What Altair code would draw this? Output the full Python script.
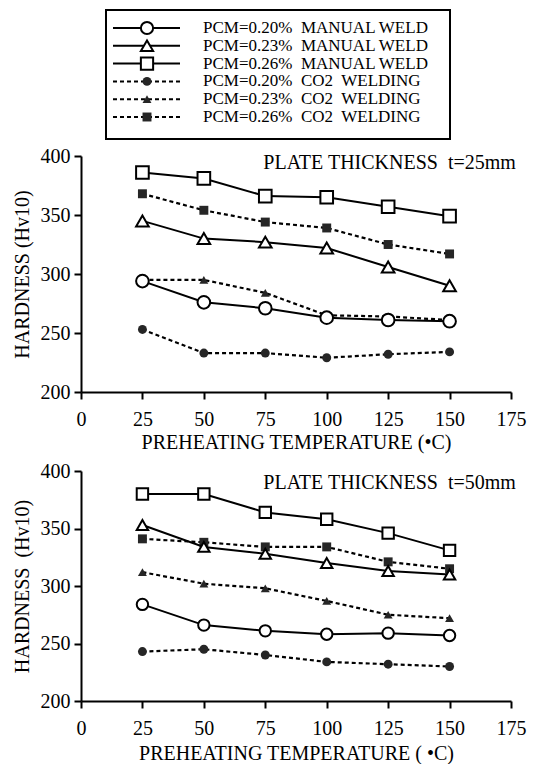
import altair as alt
import pandas as pd

# ---------------- data ----------------
temps = [25, 50, 75, 100, 125, 150]
pcm_levels = ["0.20", "0.23", "0.26"]

# plate thickness t=25mm
t25_manual_020 = [294, 276, 271, 263, 261, 260]
t25_manual_023 = [345, 330, 327, 322, 306, 290]
t25_manual_026 = [386, 381, 366, 365, 357, 349]
t25_co2_020 = [253, 233, 233, 229, 232, 234]
t25_co2_023 = [295, 295, 284, 265, 264, 261]
t25_co2_026 = [368, 354, 344, 339, 325, 317]

# plate thickness t=50mm
t50_manual_020 = [284, 266, 261, 258, 259, 257]
t50_manual_023 = [353, 334, 328, 320, 313, 310]
t50_manual_026 = [380, 380, 364, 358, 346, 331]
t50_co2_020 = [243, 245, 240, 234, 232, 230]
t50_co2_023 = [312, 302, 298, 287, 275, 272]
t50_co2_026 = [341, 338, 334, 334, 321, 315]

NB = "\u00a0"
legend_labels = [
    "PCM=0.20%" + NB + " MANUAL WELD",
    "PCM=0.23%" + NB + " MANUAL WELD",
    "PCM=0.26%" + NB + " MANUAL WELD",
    "PCM=0.20%" + NB + " CO2" + NB + " WELDING",
    "PCM=0.23%" + NB + " CO2" + NB + " WELDING",
    "PCM=0.26%" + NB + " CO2" + NB + " WELDING",
]
legend_pcm = ["0.20", "0.23", "0.26", "0.20", "0.23", "0.26"]
legend_method = ["MANUAL", "MANUAL", "MANUAL", "CO2", "CO2", "CO2"]

x_ticks = [0, 12.5, 25, 37.5, 50, 62.5, 75, 87.5, 100, 112.5, 125, 137.5, 150, 162.5, 175]
y_ticks = [200, 225, 250, 275, 300, 325, 350, 375, 400]

FONT = "Liberation Serif"


def to_long(series):
    rows = []
    for (method, pcm), vals in series.items():
        for t, v in zip(temps, vals):
            rows.append({"temp": t, "hardness": v, "pcm": pcm, "method": method})
    return pd.DataFrame(rows)


df25 = to_long({
    ("MANUAL", "0.20"): t25_manual_020,
    ("MANUAL", "0.23"): t25_manual_023,
    ("MANUAL", "0.26"): t25_manual_026,
    ("CO2", "0.20"): t25_co2_020,
    ("CO2", "0.23"): t25_co2_023,
    ("CO2", "0.26"): t25_co2_026,
})
df50 = to_long({
    ("MANUAL", "0.20"): t50_manual_020,
    ("MANUAL", "0.23"): t50_manual_023,
    ("MANUAL", "0.26"): t50_manual_026,
    ("CO2", "0.20"): t50_co2_020,
    ("CO2", "0.23"): t50_co2_023,
    ("CO2", "0.26"): t50_co2_026,
})

shape_scale = alt.Scale(domain=pcm_levels, range=["circle", "triangle-up", "square"])
PANEL_W = 430


def panel(df, note, note_y, xtitle, ytitle, h, open_size, fill_size, title_pad):
    x = alt.X(
        "temp:Q",
        scale=alt.Scale(domain=[0, 175], nice=False),
        axis=alt.Axis(
            values=x_ticks,
            labelExpr="datum.value % 25 === 0 ? datum.label : ''",
            tickSize={"condition": {"test": "datum.value % 25 === 0", "value": 7}, "value": 5},
            labelOverlap=False,
            labelFlush=False,
            labelPadding=10,
            title=xtitle,
            titlePadding=title_pad,
        ),
    )
    y = alt.Y(
        "hardness:Q",
        scale=alt.Scale(domain=[200, 400], nice=False, zero=False),
        axis=alt.Axis(
            values=y_ticks,
            labelExpr="datum.value % 50 === 0 ? datum.label : ''",
            tickSize={"condition": {"test": "datum.value % 50 === 0", "value": 7}, "value": 5},
            labelOverlap=False,
            labelFlush=False,
            labelPadding=4,
            title=ytitle,
            titlePadding=8,
        ),
    )
    shape = alt.Shape("pcm:N", scale=shape_scale, legend=None)
    base = alt.Chart(df)
    co2 = base.transform_filter("datum.method === 'CO2'")
    man = base.transform_filter("datum.method === 'MANUAL'")

    co2_line = co2.mark_line(color="black", strokeWidth=2.2, strokeDash=[4, 3]).encode(
        x=x, y=y, detail="pcm:N")
    co2_pts = co2.mark_point(filled=True, color="#262626", size=fill_size, opacity=1).encode(
        x=x, y=y, shape=shape)
    man_line = man.mark_line(color="black", strokeWidth=2).encode(x=x, y=y, detail="pcm:N")
    man_pts = man.mark_point(filled=True, fill="white", stroke="black", strokeWidth=2,
                             size=open_size, opacity=1).encode(x=x, y=y, shape=shape)

    note_df = pd.DataFrame({"t": [note], "x": [177], "y": [note_y]})
    note_txt = alt.Chart(note_df).mark_text(
        align="right", baseline="middle", font=FONT, fontSize=20, color="black"
    ).encode(x="x:Q", y="y:Q", text="t:N")

    return alt.layer(co2_line, co2_pts, man_line, man_pts, note_txt).properties(
        width=PANEL_W, height=h)


top = panel(df25, "PLATE THICKNESS" + NB + " t=25mm", 394,
            "PREHEATING TEMPERATURE (•C)", "HARDNESS (Hv10)", 236, 160, 80, 3)
bottom = panel(df50, "PLATE THICKNESS" + NB + " t=50mm", 390,
               "PREHEATING TEMPERATURE ( •C)", "HARDNESS" + NB + " (Hv10)", 230, 130, 80, 5)

# ---------------- hand-built legend (box, sample lines, markers, labels) ----------------
LEG_W = 369
LEG_H = 129
BOX_X0 = 25
SEG_X0, SEG_X1, MARK_X, TEXT_X = 32, 99, 66, 122
row_y = [18 + i * 17.8 for i in range(6)]

leg_rows = pd.DataFrame({
    "row": list(range(6)),
    "y": row_y,
    "label": legend_labels,
    "pcm": legend_pcm,
    "method": legend_method,
})
seg_rows = []
for i in range(6):
    for xx in (SEG_X0, SEG_X1):
        seg_rows.append({"row": i, "x": xx, "y": row_y[i], "method": legend_method[i]})
seg_df = pd.DataFrame(seg_rows)
leg_rows["mx"] = MARK_X
leg_rows["tx"] = TEXT_X
box_df = pd.DataFrame({"x0": [BOX_X0], "x1": [LEG_W], "y0": [0], "y1": [LEG_H]})

lx = alt.Scale(domain=[0, LEG_W], nice=False)
ly = alt.Scale(domain=[0, LEG_H], nice=False, reverse=True)

box = alt.Chart(box_df).mark_rect(fillOpacity=0, stroke="black", strokeWidth=2).encode(
    x=alt.X("x0:Q", scale=lx, axis=None), x2="x1:Q",
    y=alt.Y("y0:Q", scale=ly, axis=None), y2="y1:Q")

segs = alt.Chart(seg_df).mark_line(color="black", strokeWidth=2).encode(
    x=alt.X("x:Q", scale=lx, axis=None),
    y=alt.Y("y:Q", scale=ly, axis=None),
    detail="row:N",
    strokeDash=alt.StrokeDash("method:N", scale=alt.Scale(domain=["MANUAL", "CO2"],
                                                          range=[[1, 0], [4, 3]]), legend=None),
)
leg_base = alt.Chart(leg_rows)
leg_open = leg_base.transform_filter("datum.method === 'MANUAL'").mark_point(
    filled=True, fill="white", stroke="black", strokeWidth=2, size=150, opacity=1).encode(
    x=alt.X("mx:Q", scale=lx, axis=None), y=alt.Y("y:Q", scale=ly, axis=None),
    shape=alt.Shape("pcm:N", scale=shape_scale, legend=None))
leg_fill = leg_base.transform_filter("datum.method === 'CO2'").mark_point(
    filled=True, color="#262626", size=80, opacity=1).encode(
    x=alt.X("mx:Q", scale=lx, axis=None), y=alt.Y("y:Q", scale=ly, axis=None),
    shape=alt.Shape("pcm:N", scale=shape_scale, legend=None))
leg_text = leg_base.mark_text(align="left", baseline="middle", font=FONT, fontSize=17,
                              color="black").encode(
    x=alt.X("tx:Q", scale=lx, axis=None), y=alt.Y("y:Q", scale=ly, axis=None), text="label:N")

legend = alt.layer(box, segs, leg_open, leg_fill, leg_text).properties(width=LEG_W, height=LEG_H)

panels = alt.vconcat(top, bottom, spacing=7)

chart = alt.vconcat(legend, panels, spacing=4).properties(
    padding={"left": 3, "top": 0, "right": 5, "bottom": 0}
).configure_view(stroke="transparent").configure_axis(
    domainColor="black", domainWidth=2, tickColor="black", tickWidth=2,
    labelFont=FONT, labelFontSize=20, labelColor="black",
    titleFont=FONT, titleFontSize=20, titleFontWeight="normal", titleColor="black",
    grid=False,
)

chart.save("out.html", embed_options={"renderer": "svg", "actions": False})
